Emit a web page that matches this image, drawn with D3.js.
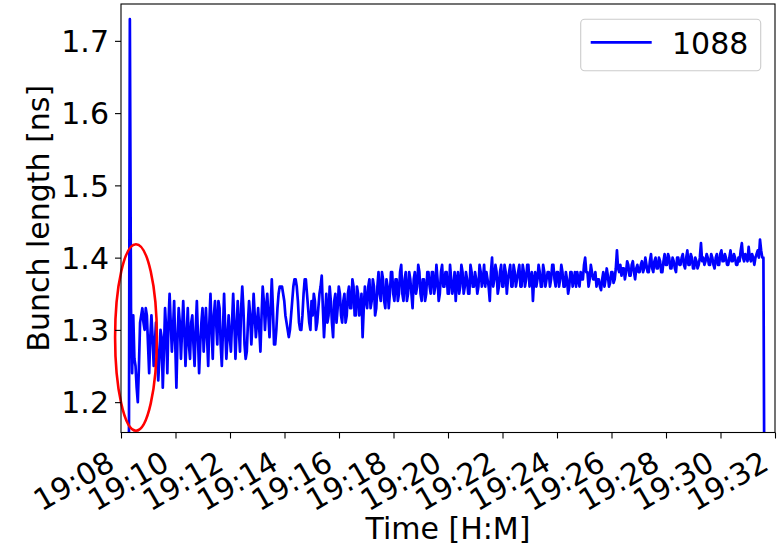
<!DOCTYPE html>
<html><head><meta charset="utf-8">
<script src="https://cdn.jsdelivr.net/npm/d3@7"></script>
<style>
html,body{margin:0;padding:0;background:#fff;}
svg{display:block;}
text{font-family:"DejaVu Sans",sans-serif;fill:#000;}
</style>
</head><body>
<svg id="chart" width="779" height="547"></svg>
<script>
// ---- data ----
const seriesName = "1088";
const startTime = "19:08:17";   // first sample
const sampleSeconds = 2.5;       // sampling interval (s)
const bunchLength = [
  1.0, 1.73, 1.33, 1.24,
  1.32, 1.26, 1.25, 1.22, 1.20, 1.25, 1.31, 1.32, 1.33, 1.31, 1.30, 1.33, 1.32, 1.28,
  1.24, 1.29, 1.32, 1.29, 1.25, 1.28, 1.31, 1.27, 1.23, 1.26, 1.30, 1.29,
  1.22, 1.27, 1.33, 1.30, 1.24, 1.31, 1.35, 1.31, 1.27, 1.30, 1.34, 1.28, 1.22, 1.29, 1.33, 1.31,
  1.26, 1.30, 1.34, 1.30, 1.25, 1.29, 1.33, 1.28, 1.26, 1.31, 1.32, 1.28, 1.25, 1.30,
  1.34, 1.29, 1.24, 1.28, 1.31, 1.33, 1.27, 1.30, 1.33, 1.29, 1.25, 1.31, 1.35, 1.30, 1.26, 1.32,
  1.34, 1.31, 1.28, 1.34, 1.33, 1.28, 1.25, 1.30, 1.35, 1.30, 1.26, 1.29, 1.32, 1.29,
  1.27, 1.31, 1.35, 1.31, 1.26, 1.30, 1.34, 1.30, 1.27, 1.33, 1.36, 1.33, 1.28, 1.26, 1.27, 1.31,
  1.34, 1.32, 1.28, 1.31, 1.35, 1.32, 1.29, 1.31, 1.33, 1.30, 1.27, 1.32, 1.36, 1.34,
  1.30, 1.33, 1.35, 1.32, 1.29, 1.33, 1.37, 1.33, 1.28, 1.28, 1.30, 1.33, 1.35, 1.36, 1.36, 1.36,
  1.35, 1.34, 1.32, 1.31, 1.30, 1.29, 1.30, 1.32, 1.34, 1.36, 1.37, 1.37, 1.36, 1.34,
  1.31, 1.30, 1.30, 1.32, 1.35, 1.37, 1.37, 1.35, 1.33, 1.31, 1.30, 1.34, 1.32, 1.35, 1.34, 1.30,
  1.31, 1.33, 1.35, 1.36, 1.375, 1.33, 1.29, 1.32, 1.35, 1.31, 1.32, 1.36, 1.34, 1.31,
  1.29, 1.34, 1.35, 1.31, 1.33, 1.36, 1.35, 1.32, 1.31, 1.34, 1.35, 1.31, 1.32, 1.35, 1.36, 1.33,
  1.33, 1.37, 1.36, 1.32, 1.32, 1.36, 1.35, 1.32, 1.33, 1.35, 1.29, 1.33, 1.36, 1.34,
  1.33, 1.36, 1.37, 1.33, 1.34, 1.37, 1.36, 1.32, 1.33, 1.36, 1.38, 1.35, 1.34, 1.38, 1.37, 1.34,
  1.33, 1.37, 1.36, 1.33, 1.35, 1.38, 1.38, 1.35, 1.34, 1.37, 1.37, 1.34, 1.35, 1.38,
  1.39, 1.35, 1.34, 1.37, 1.38, 1.34, 1.35, 1.38, 1.37, 1.35, 1.33, 1.37, 1.38, 1.35, 1.36, 1.39,
  1.38, 1.35, 1.34, 1.37, 1.37, 1.34, 1.35, 1.38, 1.38, 1.36, 1.35, 1.38, 1.38, 1.35,
  1.36, 1.39, 1.37, 1.34, 1.35, 1.38, 1.39, 1.36, 1.36, 1.38, 1.38, 1.35, 1.35, 1.39, 1.37, 1.35,
  1.36, 1.38, 1.34, 1.37, 1.38, 1.35, 1.36, 1.39, 1.38, 1.35, 1.36, 1.38, 1.37, 1.35,
  1.35, 1.39, 1.38, 1.36, 1.36, 1.38, 1.37, 1.35, 1.36, 1.39, 1.38, 1.36, 1.37, 1.39, 1.36, 1.38,
  1.37, 1.36, 1.34, 1.38, 1.40, 1.36, 1.37, 1.39, 1.38, 1.35, 1.36, 1.38, 1.39, 1.36,
  1.36, 1.39, 1.38, 1.35, 1.37, 1.38, 1.39, 1.36, 1.36, 1.39, 1.38, 1.36, 1.37, 1.38, 1.39, 1.36,
  1.36, 1.39, 1.38, 1.36, 1.37, 1.39, 1.39, 1.36, 1.37, 1.38, 1.34, 1.37, 1.38, 1.36,
  1.37, 1.39, 1.38, 1.36, 1.36, 1.39, 1.38, 1.36, 1.37, 1.38, 1.38, 1.36, 1.37, 1.39, 1.39, 1.37,
  1.36, 1.38, 1.38, 1.36, 1.37, 1.39, 1.38, 1.36, 1.36, 1.38, 1.37, 1.35, 1.36, 1.38,
  1.38, 1.36, 1.37, 1.38, 1.36, 1.38, 1.37, 1.36, 1.38, 1.37, 1.37, 1.39, 1.40, 1.38, 1.38, 1.36,
  1.37, 1.39, 1.38, 1.37, 1.37, 1.38, 1.36, 1.37, 1.37, 1.36, 1.355, 1.37, 1.38, 1.36,
  1.37, 1.385, 1.375, 1.36, 1.365, 1.38, 1.38, 1.365, 1.37, 1.385, 1.41, 1.385, 1.38, 1.39, 1.375, 1.385,
  1.385, 1.37, 1.38, 1.395, 1.39, 1.375, 1.375, 1.39, 1.395, 1.38, 1.37, 1.385, 1.39, 1.38,
  1.38, 1.39, 1.395, 1.38, 1.385, 1.40, 1.39, 1.38, 1.38, 1.395, 1.405, 1.385, 1.38, 1.395, 1.40, 1.385,
  1.385, 1.40, 1.395, 1.38, 1.38, 1.395, 1.405, 1.39, 1.39, 1.405, 1.40, 1.385, 1.385, 1.40,
  1.395, 1.385, 1.38, 1.40, 1.40, 1.39, 1.39, 1.40, 1.405, 1.39, 1.385, 1.40, 1.41, 1.39, 1.39, 1.405,
  1.40, 1.385, 1.385, 1.40, 1.395, 1.385, 1.39, 1.40, 1.42, 1.395, 1.40, 1.39, 1.395, 1.405,
  1.40, 1.39, 1.39, 1.405, 1.40, 1.39, 1.385, 1.40, 1.405, 1.39, 1.39, 1.405, 1.41, 1.395, 1.395, 1.405,
  1.40, 1.39, 1.39, 1.40, 1.41, 1.395, 1.395, 1.405, 1.40, 1.39, 1.39, 1.40, 1.395, 1.41,
  1.42, 1.40, 1.395, 1.405, 1.40, 1.395, 1.415, 1.40, 1.395, 1.405, 1.40, 1.39, 1.40, 1.405, 1.41, 1.40,
  1.425, 1.41, 1.40, 1.40, 1.0
];
const xTickLabels = ["19:08","19:10","19:12","19:14","19:16","19:18","19:20","19:22","19:24","19:26","19:28","19:30","19:32"];
const xLimits = ["19:08:00", "19:32:00"];
const yTicks = [1.2, 1.3, 1.4, 1.5, 1.6, 1.7];
const yLimits = [1.158, 1.751];
// annotation ellipse: centre time, centre value, half-width (s), half-height (ns)
const ellipseCentre = ["19:08:33", 1.2895];
const ellipseHalf = [46, 0.129];

// ---- layout ----
const W = 779, H = 547;
const plot = {left: 121, right: 775, top: 4, bottom: 432.5};
const FS = 30;

const parseHMS = d3.timeParse("%H:%M:%S");
const t0 = parseHMS(startTime);
const data = bunchLength.map((v, i) => ({t: new Date(+t0 + i * sampleSeconds * 1000), v}));

const x = d3.scaleTime().domain(xLimits.map(parseHMS)).range([plot.left, plot.right]);
const y = d3.scaleLinear().domain(yLimits).range([plot.bottom, plot.top]);

const svg = d3.select("#chart");
svg.append("rect").attr("width", W).attr("height", H).attr("fill", "#fff");

svg.append("defs").append("clipPath").attr("id", "clip")
  .append("rect").attr("x", plot.left).attr("y", plot.top)
  .attr("width", plot.right - plot.left).attr("height", plot.bottom - plot.top);

// line
const line = d3.line().x(d => x(d.t)).y(d => y(d.v));
svg.append("path").datum(data)
  .attr("clip-path", "url(#clip)")
  .attr("fill", "none").attr("stroke", "#0000ff").attr("stroke-width", 2.7)
  .attr("stroke-linejoin", "round").attr("stroke-linecap", "square")
  .attr("d", line);

// ellipse annotation
const ec = parseHMS(ellipseCentre[0]);
const cx = x(ec), cy = y(ellipseCentre[1]);
const rx = x(new Date(+ec + ellipseHalf[0] * 1000)) - cx;
const ry = y(ellipseCentre[1] - ellipseHalf[1]) - cy;
svg.append("ellipse").attr("cx", cx).attr("cy", cy).attr("rx", rx).attr("ry", ry)
  .attr("fill", "none").attr("stroke", "#ff0000").attr("stroke-width", 2.6);

// axes
const yAxis = d3.axisLeft(y).tickValues(yTicks).tickSize(6).tickPadding(6).tickFormat(d3.format(".1f"));
const gy = svg.append("g").attr("transform", `translate(${plot.left},0)`).call(yAxis);
gy.select(".domain").remove();
gy.selectAll(".tick line").attr("stroke", "#000").attr("stroke-width", 1.1);
gy.selectAll(".tick text").attr("font-size", FS).attr("dy", "0.36em").attr("fill", "#000")
  .style("font-family", '"DejaVu Sans",sans-serif');

const xAxis = d3.axisBottom(x).tickValues(xTickLabels.map(s => parseHMS(s + ":00")))
  .tickSize(6).tickFormat(d3.timeFormat("%H:%M"));
const gx = svg.append("g").attr("transform", `translate(0,${plot.bottom})`).call(xAxis);
gx.select(".domain").remove();
gx.selectAll(".tick line").attr("stroke", "#000").attr("stroke-width", 1.1);
gx.selectAll(".tick text").attr("font-size", FS).attr("fill", "#000")
  .attr("x", 0).attr("y", 0).attr("dy", 0)
  .attr("text-anchor", "end")
  .attr("transform", "translate(-5,36) rotate(-30)")
  .style("font-family", '"DejaVu Sans",sans-serif');

// spines
svg.append("rect").attr("x", plot.left).attr("y", plot.top)
  .attr("width", plot.right - plot.left).attr("height", plot.bottom - plot.top)
  .attr("fill", "none").attr("stroke", "#000").attr("stroke-width", 1.1);

// axis labels
svg.append("text").attr("transform", `translate(49,${(plot.top + plot.bottom) / 2}) rotate(-90)`)
  .attr("text-anchor", "middle").attr("font-size", FS).text("Bunch length [ns]");
svg.append("text").attr("x", (plot.left + plot.right) / 2).attr("y", 539)
  .attr("text-anchor", "middle").attr("font-size", FS).text("Time [H:M]");

// legend
const lg = svg.append("g");
lg.append("rect").attr("x", 580.7).attr("y", 19.3).attr("width", 180).attr("height", 51.4)
  .attr("rx", 4).attr("fill", "#fff").attr("fill-opacity", 0.8)
  .attr("stroke", "#cccccc").attr("stroke-width", 1.1);
lg.append("line").attr("x1", 590.7).attr("x2", 651.7).attr("y1", 42.3).attr("y2", 42.3)
  .attr("stroke", "#0000ff").attr("stroke-width", 2.7);
lg.append("text").attr("x", 672).attr("y", 54).attr("font-size", FS).text(seriesName);
</script>
</body></html>
